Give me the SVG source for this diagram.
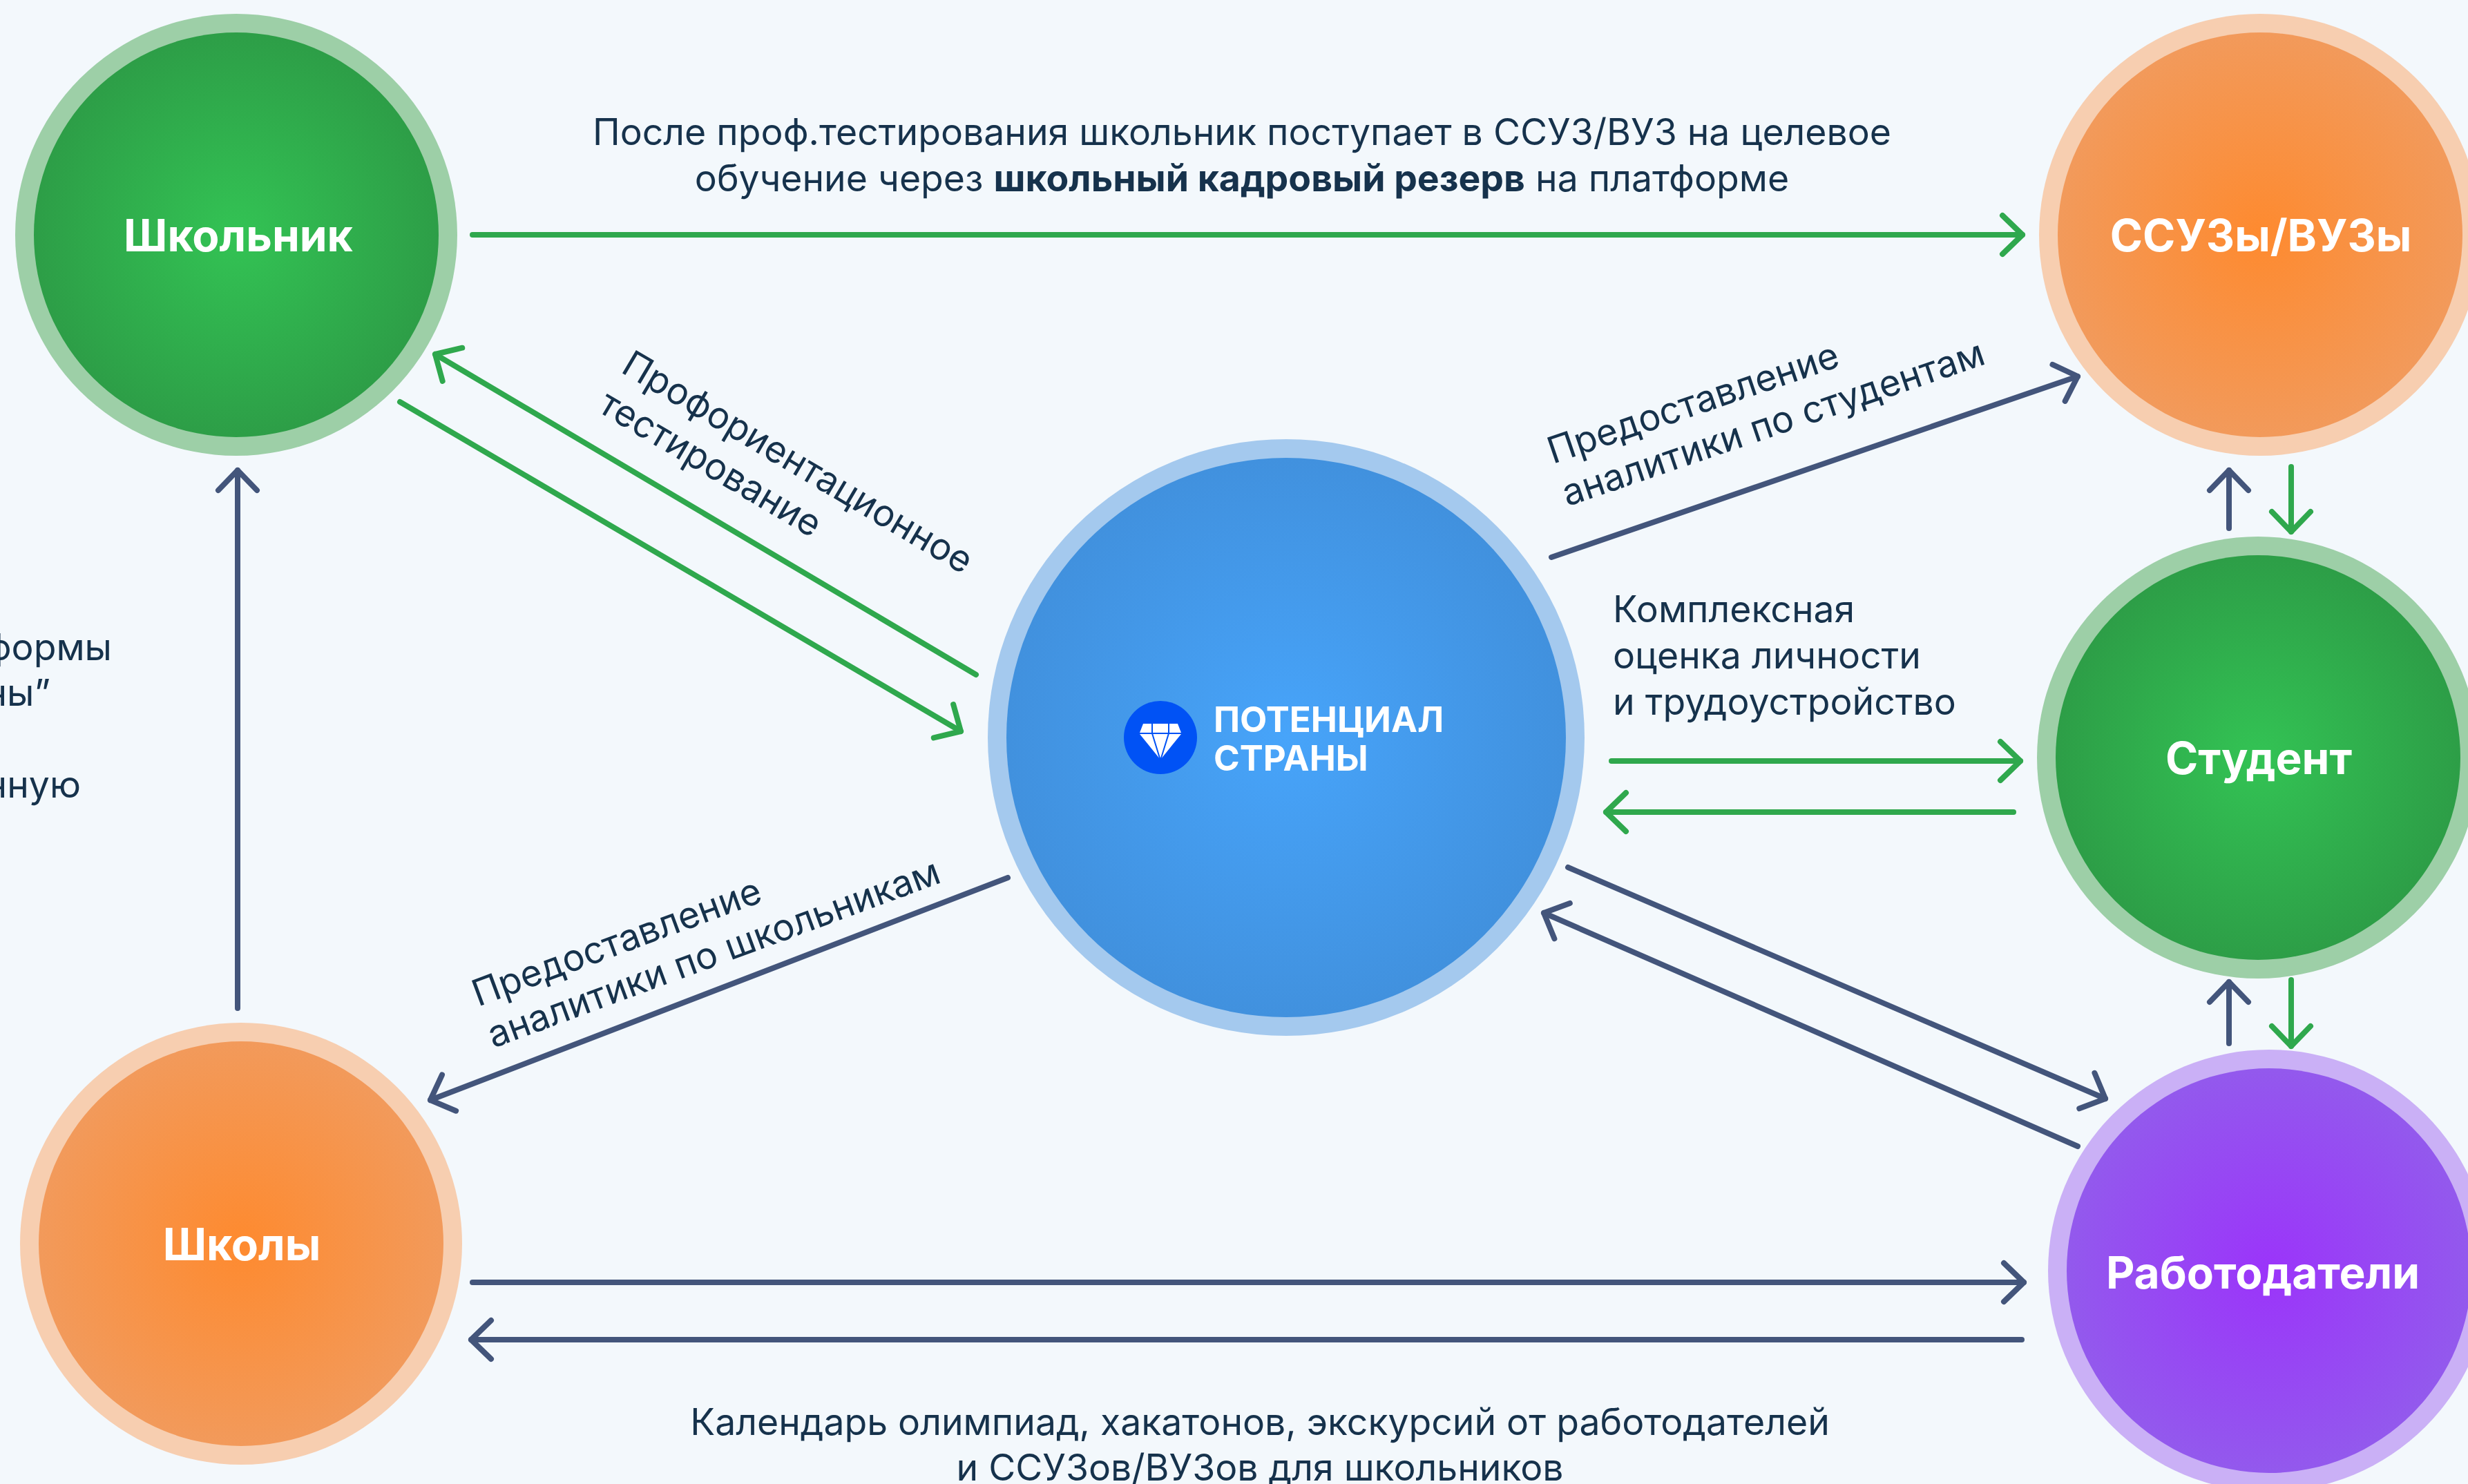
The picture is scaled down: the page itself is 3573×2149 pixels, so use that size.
<svg xmlns="http://www.w3.org/2000/svg" width="3573" height="2149" viewBox="0 0 3573 2149">
<style>
.ln{fill:none;stroke-width:8;stroke-linecap:round;stroke-linejoin:round}
.g{stroke:#2FA84D}
.n{stroke:#43557B}
.lbl{font-family:Inter,"Liberation Sans",sans-serif;font-size:53.5px;fill:#16324C}
.node{font-family:Inter,"Liberation Sans",sans-serif;font-size:64px;font-weight:700;fill:#FFFFFF;text-anchor:middle}
.logo{font-family:Inter,"Liberation Sans",sans-serif;font-size:51px;font-weight:700;fill:#FFFFFF}
</style>
<defs>
<radialGradient id="gGreen" cx="50%" cy="50%" r="50%"><stop offset="0" stop-color="#33C354"/><stop offset="1" stop-color="#2D9E47"/></radialGradient>
<radialGradient id="gOrange" cx="50%" cy="50%" r="50%"><stop offset="0" stop-color="#FE8A2F"/><stop offset="1" stop-color="#F29A5B"/></radialGradient>
<radialGradient id="gBlue" cx="50%" cy="50%" r="50%"><stop offset="0" stop-color="#47A4FA"/><stop offset="1" stop-color="#4191DE"/></radialGradient>
<radialGradient id="gPurple" cx="50%" cy="50%" r="50%"><stop offset="0" stop-color="#9B34FA"/><stop offset="1" stop-color="#9359ED"/></radialGradient>
<marker id="ag" markerUnits="userSpaceOnUse" orient="auto" markerWidth="1" markerHeight="1" refX="0" refY="0" overflow="visible" style="overflow:visible"><path d="M-29,-28 L0,0 L-29,28" class="ln g"/></marker>
<marker id="an" markerUnits="userSpaceOnUse" orient="auto" markerWidth="1" markerHeight="1" refX="0" refY="0" overflow="visible" style="overflow:visible"><path d="M-29,-28 L0,0 L-29,28" class="ln n"/></marker>
</defs>
<rect x="0" y="0" width="3573" height="2149" fill="#F3F8FC"/>

<g id="connectors">
<line x1="684" y1="340" x2="2928" y2="340" class="ln g" marker-end="url(#ag)"/>
<line x1="1413" y1="977" x2="630" y2="513" class="ln g" marker-end="url(#ag)"/>
<line x1="579" y1="582" x2="1391" y2="1059" class="ln g" marker-end="url(#ag)"/>
<line x1="2246" y1="807" x2="3008" y2="545" class="ln n" marker-end="url(#an)"/>
<line x1="2333" y1="1102" x2="2925" y2="1102" class="ln g" marker-end="url(#ag)"/>
<line x1="2915" y1="1176" x2="2325" y2="1176" class="ln g" marker-end="url(#ag)"/>
<line x1="2270" y1="1256" x2="3048" y2="1591" class="ln n" marker-end="url(#an)"/>
<line x1="3008" y1="1660" x2="2235" y2="1322" class="ln n" marker-end="url(#an)"/>
<line x1="1459" y1="1271" x2="623" y2="1593" class="ln n" marker-end="url(#an)"/>
<line x1="344" y1="1460" x2="344" y2="681" class="ln n" marker-end="url(#an)"/>
<line x1="684" y1="1857" x2="2930" y2="1857" class="ln n" marker-end="url(#an)"/>
<line x1="2927" y1="1940" x2="682" y2="1940" class="ln n" marker-end="url(#an)"/>
<line x1="3227" y1="765" x2="3227" y2="681" class="ln n" marker-end="url(#an)"/>
<line x1="3317" y1="676" x2="3317" y2="770" class="ln g" marker-end="url(#ag)"/>
<line x1="3227" y1="1511" x2="3227" y2="1422" class="ln n" marker-end="url(#an)"/>
<line x1="3317" y1="1419" x2="3317" y2="1515" class="ln g" marker-end="url(#ag)"/>
</g>

<g id="labels">
<text class="lbl" text-anchor="middle"><tspan x="1798" y="210">После проф.тестирования школьник поступает в ССУЗ/ВУЗ на целевое</tspan><tspan x="1798" y="277">обучение через <tspan font-weight="700">школьный кадровый резерв</tspan> на платформе</tspan></text>
<text class="lbl" transform="translate(897,538) rotate(30.6)"><tspan x="0" y="0">Профориентационное</tspan><tspan x="0" y="66">тестирование</tspan></text>
<text class="lbl" transform="translate(2248,672) rotate(-18.8)"><tspan x="0" y="0">Предоставление</tspan><tspan x="0" y="65">аналитики по студентам</tspan></text>
<text class="lbl"><tspan x="2335" y="901">Комплексная</tspan><tspan x="2335" y="968">оценка личности</tspan><tspan x="2335" y="1035">и трудоустройство</tspan></text>
<text class="lbl" transform="translate(692,1458) rotate(-20.3)"><tspan x="0" y="0">Предоставление</tspan><tspan x="0" y="64">аналитики по школьникам</tspan></text>
<text class="lbl" text-anchor="middle"><tspan x="1824" y="2078">Календарь олимпиад, хакатонов, экскурсий от работодателей</tspan><tspan x="1824" y="2144">и ССУЗов/ВУЗов для школьников</tspan></text>
<text class="lbl" text-anchor="end"><tspan x="162" y="956">формы</tspan><tspan x="73" y="1022">ны”</tspan><tspan x="117" y="1155">нную</tspan></text>
</g>

<g id="node-shkolnik">
<circle cx="342" cy="340" r="320" fill="#9DCFA7"/>
<circle cx="342" cy="340" r="293" fill="url(#gGreen)"/>
<text class="node" x="345" y="364">Школьник</text>
</g>
<g id="node-ssuz">
<circle cx="3272" cy="340" r="320" fill="#F7CEB0"/>
<circle cx="3272" cy="340" r="293" fill="url(#gOrange)"/>
<text class="node" x="3273" y="364">ССУЗы/ВУЗы</text>
</g>
<g id="node-student">
<circle cx="3269" cy="1097" r="320" fill="#9DCFA7"/>
<circle cx="3269" cy="1097" r="293" fill="url(#gGreen)"/>
<text class="node" x="3270" y="1121">Студент</text>
</g>
<g id="node-employers">
<circle cx="3285" cy="1840" r="320" fill="#CAB0F6"/>
<circle cx="3285" cy="1840" r="293" fill="url(#gPurple)"/>
<text class="node" x="3276" y="1866">Работодатели</text>
</g>
<g id="node-schools">
<circle cx="349" cy="1801" r="320" fill="#F7CEB0"/>
<circle cx="349" cy="1801" r="293" fill="url(#gOrange)"/>
<text class="node" x="350" y="1825">Школы</text>
</g>
<g id="node-potential">
<circle cx="1862" cy="1068" r="432" fill="#A4C9EE"/>
<circle cx="1862" cy="1068" r="405" fill="url(#gBlue)"/>
<circle cx="1680" cy="1068" r="53" fill="#0052F5"/>
<polygon points="1655,1048 1705,1048 1710,1061 1650,1061" fill="#FFFFFF"/>
<polygon points="1650,1063 1710,1063 1680,1100" fill="#FFFFFF"/>
<path d="M1668,1047 L1668,1062 L1680,1101 M1692,1047 L1692,1062 L1680,1101" fill="none" stroke="#0052F5" stroke-width="2"/>
<text class="logo"><tspan x="1757" y="1060">ПОТЕНЦИАЛ</tspan><tspan x="1757" y="1116">СТРАНЫ</tspan></text>
</g>
</svg>
